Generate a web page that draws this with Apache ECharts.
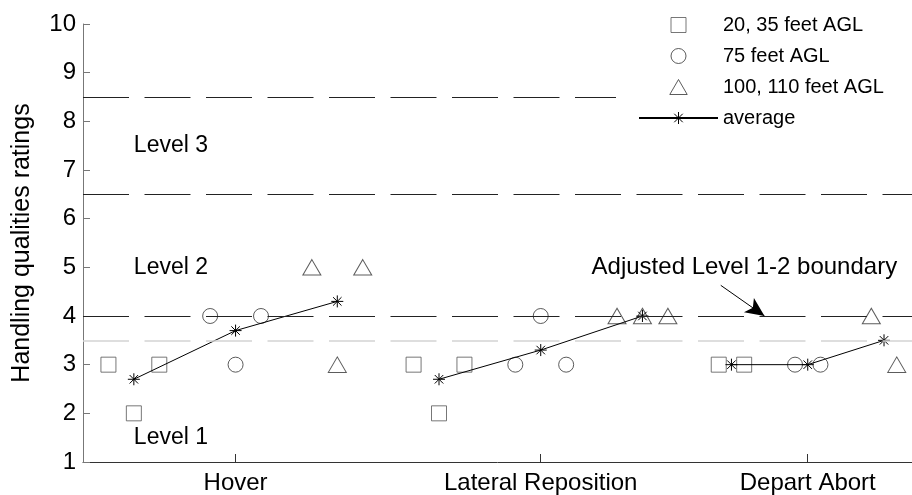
<!DOCTYPE html>
<html>
<head>
<meta charset="utf-8">
<script src="https://cdn.jsdelivr.net/npm/echarts@6/dist/echarts.min.js"></script>
<style>
  html, body { margin: 0; padding: 0; background: #fff; }
  #chart { width: 912px; height: 495px; }
</style>
</head>
<body>
<div id="chart"></div>
<script>
// Tasks and the centre of each task group on the x scale
const taskNames = ['Hover', 'Lateral Reposition', 'Depart Abort'];
const taskCenters = [1.5, 4.5, 7.125];

// Pilot ratings as [position, rating]
const ratings20to35 = [[0.25, 3], [0.5, 2], [0.75, 3], [3.25, 3], [3.5, 2], [3.75, 3], [6.25, 3], [6.5, 3]];
const ratings75 = [[1.25, 4], [1.5, 3], [1.75, 4], [4.25, 3], [4.5, 4], [4.75, 3], [7.0, 3], [7.25, 3]];
const ratings100to110 = [[2.25, 5], [2.5, 3], [2.75, 5], [5.25, 4], [5.5, 4], [5.75, 4], [7.75, 4], [8.0, 3]];

// Average rating of each altitude group, one polyline per task
const averageHover = [[0.5, 2.7], [1.5, 3.7], [2.5, 4.3]];
const averageLateral = [[3.5, 2.7], [4.5, 3.3], [5.5, 4.0]];
const averageDepart = [[6.375, 3.0], [7.125, 3.0], [7.875, 3.5]];

// Handling qualities level boundaries
const level3Upper = 8.5;
const level23Boundary = 6.5;
const level12Boundary = 4.0;
const adjustedBoundary = 3.5;

// Level names and where they are written
const levelLabels = [
  { name: 'Level 3', coord: [0.5, 7.5] },
  { name: 'Level 2', coord: [0.5, 5.0] },
  { name: 'Level 1', coord: [0.5, 1.5] }
];
const boundaryNote = { name: 'Adjusted Level 1-2 boundary', coord: [5.0, 5.0] };
const boundaryArrow = [[6.27, 4.63], [6.70, 4.0]];

const FONT = '"Liberation Sans", Arial, Helvetica, sans-serif';
const DASH = [46, 15.5];

const squareIcon = 'path://M0,0H10V10H0Z';
const circleIcon = 'path://M5,0A5,5,0,1,1,5,10A5,5,0,1,1,5,0Z';
const triangleIcon = 'path://M9,0L18,15.5L0,15.5Z';
const starIcon = 'path://M6,0V12M0,6H12M1.76,1.76L10.24,10.24M10.24,1.76L1.76,10.24';

function taskName(v) {
  for (let i = 0; i < taskCenters.length; i++) {
    if (Math.abs(taskCenters[i] - v) < 1e-6) return taskNames[i];
  }
  return '';
}

function openMarker(color) {
  return { color: 'transparent', borderColor: color, borderWidth: 1 };
}

function averageSeries(data) {
  return {
    name: 'average',
    type: 'line',
    data: data,
    symbol: starIcon,
    symbolSize: 12,
    itemStyle: { color: 'transparent', borderColor: '#000', borderWidth: 1 },
    lineStyle: { color: '#000', width: 1 },
    z: 4,
    emphasis: { disabled: true }
  };
}

const chart = echarts.init(document.getElementById('chart'), null, { renderer: 'canvas' });

chart.setOption({
  animation: false,
  backgroundColor: '#fff',
  textStyle: { fontFamily: FONT },
  grid: { left: 83, right: 0, top: 24, bottom: 31, containLabel: false },
  legend: {
    data: ['20, 35 feet AGL', '75 feet AGL', '100, 110 feet AGL', 'average'],
    orient: 'vertical',
    left: 633,
    top: 10,
    itemWidth: 79,
    itemHeight: 15,
    itemGap: 11,
    selectedMode: false,
    textStyle: { fontFamily: FONT, fontSize: 20, color: '#000', lineHeight: 20 },
    itemStyle: { borderWidth: 1 }
  },
  xAxis: {
    type: 'value',
    min: 0,
    max: 8.15,
    splitLine: { show: false },
    axisLine: { lineStyle: { color: '#333', width: 1 } },
    axisTick: { show: true, inside: true, length: 8, customValues: taskCenters, lineStyle: { color: '#333' } },
    axisLabel: {
      customValues: taskCenters,
      formatter: taskName,
      fontFamily: FONT, fontSize: 24, color: '#000', margin: 9
    }
  },
  yAxis: {
    type: 'value',
    min: 1,
    max: 10,
    interval: 1,
    name: 'Handling qualities ratings',
    nameLocation: 'middle',
    nameGap: 48,
    nameTextStyle: { fontFamily: FONT, fontSize: 25, color: '#000' },
    splitLine: { show: false },
    axisLine: { lineStyle: { color: '#777', width: 1 } },
    axisTick: { inside: true, length: 7, lineStyle: { color: '#777' } },
    axisLabel: { fontFamily: FONT, fontSize: 24, color: '#000', margin: 7 }
  },
  series: [
    {
      name: 'bounds',
      type: 'line',
      data: [],
      silent: true,
      z: 1,
      markLine: {
        silent: true,
        symbol: 'none',
        label: { show: false },
        emphasis: { disabled: true },
        data: [
          [{ coord: [0, level3Upper] }, { coord: [5.24, level3Upper] }],
          { yAxis: level23Boundary },
          { yAxis: level12Boundary },
          { yAxis: adjustedBoundary, lineStyle: { color: '#d4d4d4', width: 1.6, type: DASH } },
          [
            { coord: boundaryArrow[0], symbol: 'none', lineStyle: { type: 'solid', color: '#000', width: 1 } },
            { coord: boundaryArrow[1], symbol: 'arrow', symbolSize: [13, 19] }
          ]
        ],
        lineStyle: { color: '#222', width: 1, type: DASH }
      },
      markPoint: {
        silent: true,
        symbol: 'circle',
        symbolSize: 0,
        itemStyle: { color: 'transparent' },
        label: {
          show: true,
          position: 'right',
          distance: 0,
          formatter: (p) => p.name,
          fontFamily: FONT, fontSize: 23, color: '#000'
        },
        data: levelLabels.concat([Object.assign({ label: { fontSize: 24 } }, boundaryNote)])
      }
    },
    {
      name: '20, 35 feet AGL',
      type: 'scatter',
      data: ratings20to35,
      symbol: squareIcon,
      symbolSize: 15,
      itemStyle: openMarker('#555'),
      z: 3,
      emphasis: { disabled: true }
    },
    {
      name: '75 feet AGL',
      type: 'scatter',
      data: ratings75,
      symbol: circleIcon,
      symbolSize: 15,
      itemStyle: openMarker('#333'),
      z: 3,
      emphasis: { disabled: true }
    },
    {
      name: '100, 110 feet AGL',
      type: 'scatter',
      data: ratings100to110,
      symbol: triangleIcon,
      symbolSize: [18, 15.5],
      itemStyle: openMarker('#333'),
      z: 3,
      emphasis: { disabled: true }
    },
    averageSeries(averageHover),
    averageSeries(averageLateral),
    averageSeries(averageDepart)
  ]
});
</script>
</body>
</html>
